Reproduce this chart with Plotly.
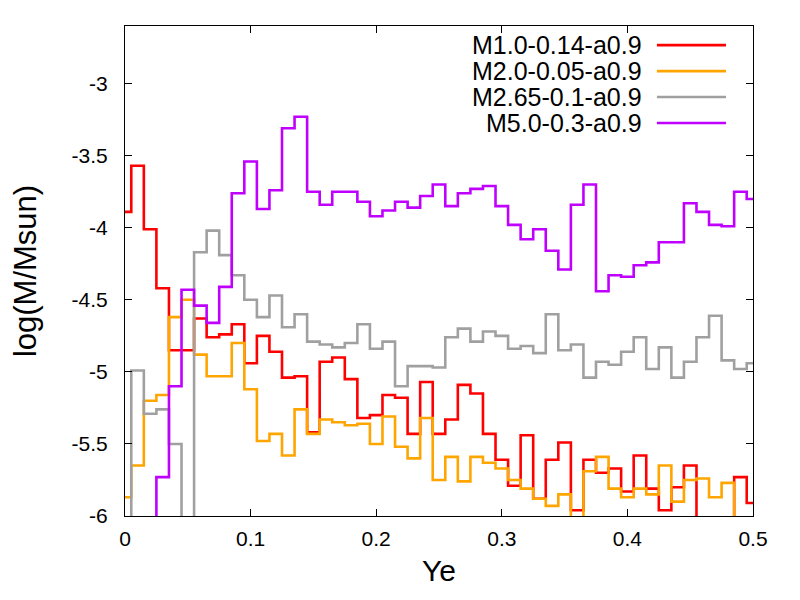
import plotly.graph_objects as go

# bin centres in Ye
ye = [0.00, 0.01, 0.02, 0.03, 0.04, 0.05, 0.06, 0.07, 0.08, 0.09,
      0.10, 0.11, 0.12, 0.13, 0.14, 0.15, 0.16, 0.17, 0.18, 0.19,
      0.20, 0.21, 0.22, 0.23, 0.24, 0.25, 0.26, 0.27, 0.28, 0.29,
      0.30, 0.31, 0.32, 0.33, 0.34, 0.35, 0.36, 0.37, 0.38, 0.39,
      0.40, 0.41, 0.42, 0.43, 0.44, 0.45, 0.46, 0.47, 0.48, 0.49, 0.50]

# log(M/Msun) per bin (values under -6 fall off the bottom of the plot)
m1_0 = [-3.89, -3.57, -4.01, -4.42, -4.85, -4.85, -4.63, -4.76, -4.74, -4.67,
        -4.94, -4.75, -4.86, -5.04, -5.03, -5.42, -4.93, -4.90, -5.05, -5.32,
        -5.30, -5.16, -5.18, -5.43, -5.07, -5.43, -5.33, -5.09, -5.15, -5.43,
        -5.61, -5.79, -5.44, -5.88, -5.61, -5.49, -5.96, -5.61, -5.70, -5.67,
        -5.83, -5.58, -5.81, -5.96, -5.80, -5.65, -7.0, -7.0, -7.0, -5.73, -5.91]

m2_0 = [-5.87, -5.65, -5.20, -5.16, -4.62, -4.50, -4.88, -5.03, -5.03, -4.80,
        -5.12, -5.48, -5.43, -5.58, -5.26, -5.43, -5.33, -5.35, -5.37, -5.36,
        -5.50, -5.31, -5.52, -5.60, -5.32, -5.75, -5.59, -5.76, -5.59, -5.63,
        -5.67, -5.75, -5.81, -5.88, -5.93, -5.85, -7.0, -5.69, -5.59, -5.81,
        -5.87, -5.81, -5.85, -5.65, -5.90, -5.75, -5.74, -5.87, -5.77, -7.0, -7.0]

m2_65 = [-7.0, -4.99, -5.29, -5.26, -5.50, -7.0, -4.17, -4.02, -4.19, -4.33,
         -4.50, -4.62, -4.47, -4.69, -4.60, -4.79, -4.81, -4.83, -4.80, -4.67,
         -4.84, -4.79, -5.10, -4.96, -4.96, -4.97, -4.76, -4.70, -4.79, -4.72,
         -4.75, -4.84, -4.82, -4.87, -4.60, -4.85, -4.81, -5.04, -4.93, -4.95,
         -4.86, -4.76, -4.98, -4.83, -5.04, -4.93, -4.76, -4.61, -4.92, -4.98, -4.94]

m5_0 = [-7.0, -7.0, -7.0, -5.73, -5.10, -4.43, -4.54, -4.66, -4.41, -3.76,
        -3.54, -3.87, -3.74, -3.31, -3.23, -3.75, -3.84, -3.75, -3.75, -3.82,
        -3.92, -3.88, -3.82, -3.86, -3.78, -3.70, -3.85, -3.76, -3.73, -3.71,
        -3.85, -3.98, -4.08, -4.01, -4.16, -4.29, -3.84, -3.70, -4.44, -4.33,
        -4.34, -4.26, -4.24, -4.10, -4.10, -3.83, -3.89, -3.98, -3.99, -3.75, -3.80]

nombres = ["M1.0-0.14-a0.9", "M2.0-0.05-a0.9", "M2.65-0.1-a0.9", "M5.0-0.3-a0.9"]
series = [m1_0, m2_0, m2_65, m5_0]
cores = ["#ff0000", "#ffa500", "#a0a0a0", "#c000ff"]

xticks = [0, 0.1, 0.2, 0.3, 0.4, 0.5]
xtick_text = ["0", "0.1", "0.2", "0.3", "0.4", "0.5"]
yticks = [-6, -5.5, -5, -4.5, -4, -3.5, -3]
ytick_text = ["-6", "-5.5", "-5", "-4.5", "-4", "-3.5", "-3"]

fig = go.Figure()

for nome, valores, cor in zip(nombres, series, cores):
    fig.add_trace(go.Scatter(
        x=ye, y=valores, name=nome, mode="lines",
        line=dict(color=cor, width=2.6, shape="hvh"),
        showlegend=False,
    ))

# legend drawn by hand: text on the left, line sample on the right
legend_y = [0.961, 0.908, 0.855, 0.802]
for nome, cor, ly in zip(nombres, cores, legend_y):
    fig.add_annotation(x=0.826, y=ly, xref="paper", yref="paper",
                       text=nome, showarrow=False, xanchor="right", yanchor="middle",
                       font=dict(size=25, color="black"))
    fig.add_shape(type="line", xref="paper", yref="paper",
                  x0=0.847, x1=0.957, y0=ly, y1=ly,
                  line=dict(color=cor, width=2.6))

eixo = dict(showline=True, linecolor="black", linewidth=1, mirror="allticks",
            ticks="inside", ticklen=7, tickcolor="black", showgrid=False,
            zeroline=False, tickfont=dict(size=21, color="black"))

# page body adds ~8px, so margins are pulled in to keep the plot box in place
fig.update_layout(
    width=800, height=600,
    margin=dict(l=115, r=55, t=18, b=92),
    plot_bgcolor="white", paper_bgcolor="white",
    font=dict(family="Liberation Sans, Arial, sans-serif", color="black"),
    xaxis=dict(eixo, range=[0, 0.5], tickvals=xticks, ticktext=xtick_text,
               ticklabelstandoff=4,
               title=dict(text="Ye", font=dict(size=30), standoff=10)),
    yaxis=dict(eixo, range=[-6, -2.6], tickvals=yticks, ticktext=ytick_text,
               ticklabelstandoff=12,
               title=dict(text="log(M/Msun)", font=dict(size=31), standoff=30)),
)

fig.write_html("out.html")
